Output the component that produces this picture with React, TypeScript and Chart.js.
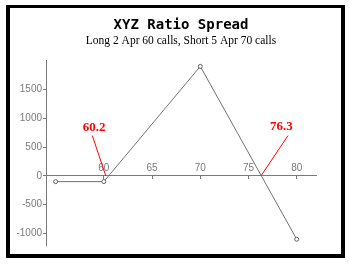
import React, { useEffect, useRef } from "react";
import { Chart, registerables } from "chart.js";

Chart.register(...registerables);

// ---- data ----
const prices = [55, 60, 70, 80];
const profit = [-100, -100, 1900, -1100];
const xTicks = [60, 65, 70, 75, 80];
const yTicks = [-1000, -500, 0, 500, 1000, 1500];
const breakevens = [60.2, 76.3];
const breakevenLabels = ["60.2", "76.3"];
// leader-line tops and label anchors, in data units
const leaderTopX = [58.8, 79.1];
const leaderTopY = [700, 700];
const labelX = [59.0, 78.4];
const labelY = [840, 860];

const AXIS_GREY = "#7a7a7a";

const labelPlugin = {
  id: "beLabels",
  afterDatasetsDraw(chart: any) {
    const { ctx, scales } = chart;
    ctx.save();
    ctx.fillStyle = "#ff0000";
    ctx.font = "bold 13px 'Liberation Serif', serif";
    ctx.textAlign = "center";
    ctx.textBaseline = "middle";
    breakevenLabels.forEach((t, i) => {
      ctx.fillText(t, scales.x.getPixelForValue(labelX[i]), scales.y.getPixelForValue(labelY[i]));
    });
    ctx.restore();
  },
};

export default function App() {
  const ref = useRef<HTMLCanvasElement>(null);
  useEffect(() => {
    if (!ref.current) return;
    const leaderSets = breakevens.map((b, i) => ({
      type: "line" as const,
      data: [
        { x: leaderTopX[i], y: leaderTopY[i] },
        { x: b, y: 0 },
      ],
      borderColor: "#ff0000",
      borderWidth: 1,
      pointRadius: 0,
      fill: false,
    }));
    const chart = new Chart(ref.current, {
      type: "line",
      data: {
        datasets: [
          {
            data: prices.map((p, i) => ({ x: p, y: profit[i] })),
            borderColor: "#707070",
            borderWidth: 1,
            pointRadius: 2,
            pointBorderWidth: 1,
            pointBorderColor: "#606060",
            pointBackgroundColor: "#ffffff",
            fill: false,
          },
          ...leaderSets,
        ],
      },
      plugins: [labelPlugin],
      options: {
        animation: false,
        responsive: false,
        layout: { padding: { left: 10, right: 34, top: 0, bottom: 20 } },
        plugins: {
          legend: { display: false },
          tooltip: { enabled: false },
          title: {
            display: true,
            text: "XYZ Ratio Spread",
            fullSize: false,
            color: "#000",
            font: { family: "'DejaVu Sans Mono', monospace", size: 14, weight: "bold" },
            padding: { top: 17, bottom: 0 },
          },
          subtitle: {
            display: true,
            text: "Long 2 Apr 60 calls, Short 5 Apr 70 calls",
            fullSize: false,
            color: "#000",
            font: { family: "'Liberation Serif', serif", size: 11.5 },
            padding: { top: 0, bottom: 13 },
          },
        },
        scales: {
          x: {
            type: "linear",
            min: 54,
            max: 82,
            position: { y: 0 } as any,
            afterBuildTicks: (s: any) => {
              s.ticks = xTicks.map((v) => ({ value: v }));
            },
            ticks: {
              color: AXIS_GREY,
              font: { family: "'Liberation Sans', sans-serif", size: 10 },
              padding: -17,
              maxRotation: 0,
              callback: (v: any) => String(v),
            },
            grid: { drawOnChartArea: false, drawTicks: true, tickLength: 3, color: AXIS_GREY },
            border: { display: true, color: AXIS_GREY, width: 1 },
          },
          y: {
            type: "linear",
            min: -1200,
            max: 2000,
            position: "left",
            afterFit: (s: any) => {
              s.width = 36;
            },
            afterBuildTicks: (s: any) => {
              s.ticks = yTicks.map((v) => ({ value: v }));
            },
            ticks: {
              color: AXIS_GREY,
              font: { family: "'Liberation Sans', sans-serif", size: 10 },
              padding: 1,
              callback: (v: any) => String(v),
            },
            grid: { drawOnChartArea: false, drawTicks: true, tickLength: 3, color: AXIS_GREY },
            border: { display: true, color: AXIS_GREY, width: 1 },
          },
        },
      },
    });
    return () => chart.destroy();
  }, []);

  return (
    <div style={{ position: "absolute", left: 0, top: 0, width: 350, height: 265, background: "#fff" }}>
      <canvas ref={ref} width={350} height={265} style={{ position: "absolute", left: 0, top: 0 }} />
      <div
        style={{
          position: "absolute",
          left: 6,
          top: 5,
          width: 339,
          height: 253,
          boxSizing: "border-box",
          borderStyle: "solid",
          borderColor: "#000",
          borderWidth: "3px 4px 4px 4px",
          pointerEvents: "none",
        }}
      />
    </div>
  );
}
